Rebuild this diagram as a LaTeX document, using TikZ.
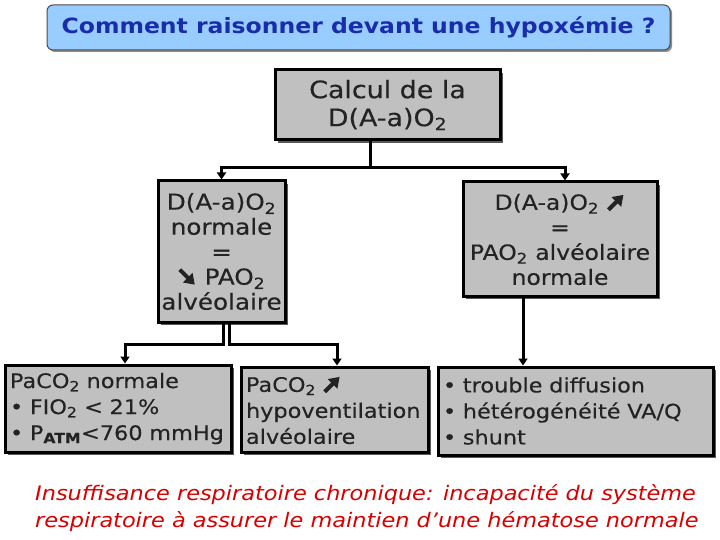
\documentclass[tikz,border=0pt]{standalone}
\usepackage{fontspec}
\setmainfont{DejaVu Sans}[FakeStretch=1.12]
\newfontfamily\boxf{DejaVu Sans}[FakeStretch=1.12,FakeBold=0.3]
\usetikzlibrary{arrows.meta,shadows}
\definecolor{boxgray}{RGB}{192,192,192}
\definecolor{titleblue}{RGB}{153,204,255}
\definecolor{titletext}{RGB}{25,45,170}
\definecolor{txtgray}{RGB}{35,35,35}
\definecolor{redtxt}{RGB}{215,0,0}
\newcommand\uparr{\tikz[baseline=0pt,x=1pt,y=1pt]\draw[line width=4pt,txtgray,-{Triangle[width=13pt,length=10pt]}] (0,0) -- (15,15);}
\newcommand\dnarr{\tikz[baseline=0pt,x=1pt,y=1pt]\draw[line width=4pt,txtgray,-{Triangle[width=13pt,length=10pt]}] (0,15) -- (15,0);}
\begin{document}
\begin{tikzpicture}[x=1pt,y=-1pt,
  graybox/.style={draw=black, line width=3pt, fill=boxgray, text=txtgray,
    drop shadow={shadow xshift=3pt,shadow yshift=-3pt,fill=black!65,opacity=1},
    inner sep=0pt, align=center},
  conn/.style={line width=3pt, draw=black},
  arr/.style={conn, -{Triangle[width=9pt,length=7pt]}}]
\useasboundingbox (0,0) rectangle (720,540);
\fill[white] (0,0) rectangle (720,540);

\node[draw=black!70, line width=1pt, fill=titleblue, rounded corners=6pt,
  minimum width=623pt, minimum height=45pt, text=titletext,
  drop shadow={shadow xshift=2pt,shadow yshift=-2pt,fill=black!45,opacity=1},
  font=\fontsize{21}{25}\selectfont\bfseries] (title) at (358.5,27.5)
  {Comment raisonner devant une hypoxémie ?};

\node[graybox, minimum width=225pt, minimum height=70pt,
  font=\boxf\fontsize{24}{28}\selectfont] (top) at (387.5,105)
  {Calcul de la\\D(A-a)O\textsubscript{2}};

\node[graybox, minimum width=127pt, minimum height=141pt,
  font=\boxf\fontsize{22}{25}\selectfont] (lm) at (221.5,251.5)
  {D(A-a)O\textsubscript{2}\\normale\\=\\\dnarr{} PAO\textsubscript{2}\\alvéolaire};

\node[graybox, minimum width=194pt, minimum height=114pt,
  font=\boxf\fontsize{21}{25}\selectfont] (rm) at (560,239)
  {D(A-a)O\textsubscript{2} \uparr\\=\\PAO\textsubscript{2} alvéolaire\\normale};

\node[graybox, minimum width=226pt, minimum height=87pt, text width=216pt, align=left,
  font=\boxf\fontsize{20}{26}\selectfont] (bl) at (118,408.5)
  {PaCO\textsubscript{2} normale\\• FIO\textsubscript{2} < 21\%\\• P\textsubscript{\textbf{ATM}}<760 mmHg};

\node[graybox, minimum width=187pt, minimum height=85pt, text width=177pt, align=left,
  font=\boxf\fontsize{20}{26}\selectfont] (bm) at (334.5,409.5)
  {PaCO\textsubscript{2} \uparr\\hypoventilation\\alvéolaire};

\node[graybox, minimum width=275pt, minimum height=88pt, text width=265pt, align=left,
  font=\boxf\fontsize{20}{26}\selectfont] (br) at (575.5,411)
  {• trouble diffusion\\• hétérogénéité VA/Q\\• shunt};

\node[anchor=north west, inner sep=0pt, align=left, text=redtxt,
  font=\fontsize{20}{27}\selectfont\itshape] (note) at (35,484)
  {Insuffisance respiratoire chronique: incapacité du système\\respiratoire à assurer le maintien d’une hématose normale};

\draw[conn] ([xshift=-17.5pt]top.south) -- ++(0,26) coordinate (j1);
\draw[arr] (j1) -| (lm.north);
\draw[arr] (j1) -| ([xshift=5pt]rm.north);
\draw[arr] ([xshift=1.5pt]lm.south) -- ++(0,21) -| ([xshift=7pt]bl.north);
\draw[arr] ([xshift=7.5pt]lm.south) -- ++(0,21) -| ([xshift=2.5pt]bm.north);
\draw[arr] ([xshift=-37pt]rm.south) -- ([xshift=-37pt]rm.south |- br.north);
\end{tikzpicture}
\end{document}
